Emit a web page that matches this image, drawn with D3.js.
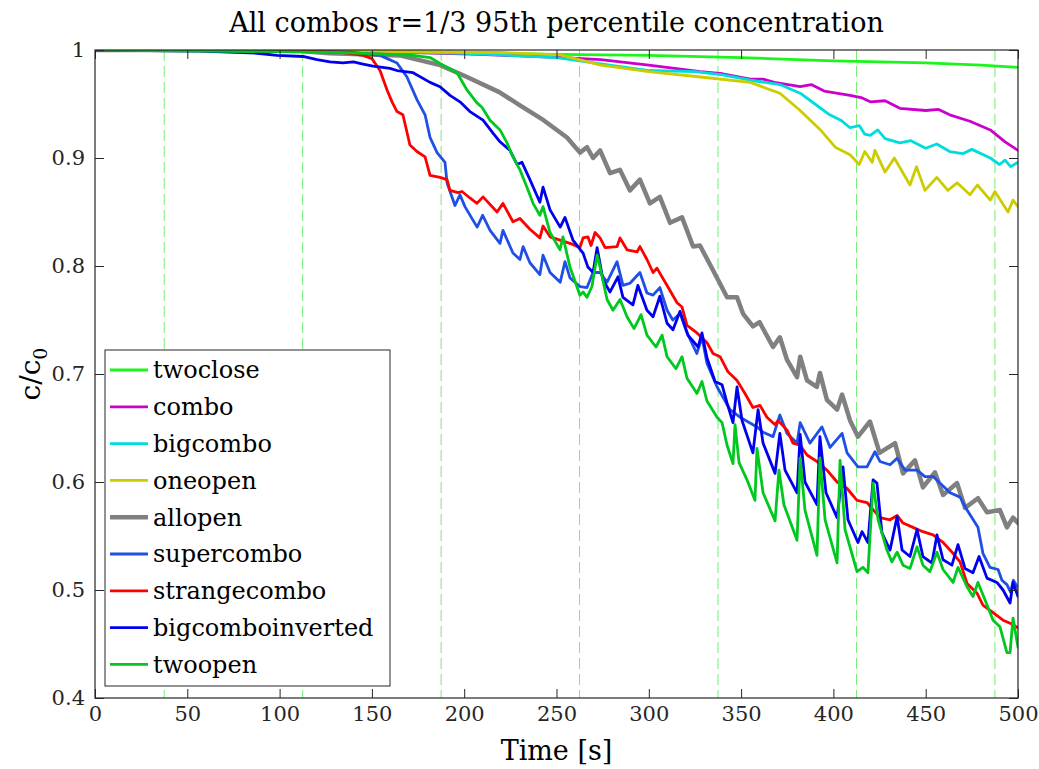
<!DOCTYPE html>
<html lang="en">
<head>
    <meta charset="UTF-8">
    <title>All combos</title>
    <script src="https://cdnjs.cloudflare.com/ajax/libs/d3/7.8.5/d3.min.js"></script>
    <style>
        body { margin: 0; background: #fff; }
    </style>
</head>
<body>
<script>

    // series, in legend order: [time s, c/c0]
    var seriesNames = ["twoclose", "combo", "bigcombo", "oneopen", "allopen",
        "supercombo", "strangecombo", "bigcomboinverted", "twoopen"];
    var seriesColors = ["#1cf51c", "#cc00cc", "#00dcdc", "#cccc00", "#808080",
        "#1f4fe6", "#ff0000", "#0000f0", "#00c81e"];

    var twoclose = [[0,1],[100,0.999],[200,0.997],[250,0.996],[300,0.995],[350,0.993],[380,0.991],
        [400,0.990],[450,0.988],[480,0.986],[500,0.984]];

    var combo = [[0,1],[111,0.9995],[165,0.998],[208,0.996],[246,0.9935],[274,0.991],[300,0.986],
        [328,0.980],[340,0.978],[355,0.973],[362,0.973],[368,0.970],[382,0.966],[388,0.968],[395,0.962],
        [409,0.958],[415,0.956],[420,0.952],[428,0.953],[436,0.946],[450,0.944],[457,0.945],
        [463,0.940],[474,0.934],[485,0.926],[493,0.915],[500,0.907]];

    var bigcombo = [[0,1],[150,0.999],[200,0.997],[250,0.993],[275,0.987],[300,0.981],[325,0.980],
        [340,0.977],[355,0.972],[371,0.968],[382,0.960],[390,0.950],[398,0.940],[404,0.935],[409,0.928],
        [414,0.930],[417,0.922],[420,0.921],[424,0.926],[428,0.918],[436,0.914],[442,0.916],[450,0.909],
        [456,0.913],[463,0.906],[470,0.904],[475,0.908],[485,0.900],[490,0.894],[493,0.898],[496,0.892],
        [500,0.896]];

    var oneopen = [[0,1],[165,0.9986],[219,0.9977],[252,0.9954],[274,0.986],[300,0.980],[328,0.975],
        [355,0.970],[371,0.960],[382,0.944],[393,0.926],[401,0.910],[409,0.903],[414,0.894],[417,0.906],
        [421,0.896],[422.5,0.907],[428,0.887],[433,0.900],[441.5,0.875],[445,0.892],[449.6,0.870],
        [456,0.882],[462,0.870],[467,0.877],[474,0.866],[478,0.875],[485,0.861],[487.5,0.869],
        [494.6,0.850],[497.3,0.861],[500,0.855]];

    var allopen = [[0,1],[84,1.0],[111,0.999],[127,0.997],[165,0.995],[187,0.986],[201.5,0.975],
        [219,0.961],[230,0.949],[243,0.935],[255.7,0.919],[262.7,0.905],[266.5,0.910],[269.8,0.900],
        [273.6,0.907],[279,0.886],[284.4,0.889],[289.8,0.870],[295.2,0.880],[300.6,0.858],[306,0.864],
        [311.5,0.840],[318,0.845],[324,0.818],[327.7,0.819],[334.8,0.796],[342.4,0.771],[347.8,0.771],
        [351,0.756],[356.4,0.744],[360,0.748],[367.3,0.725],[371,0.734],[374.9,0.713],[380.3,0.697],
        [382,0.716],[385.7,0.694],[391,0.688],[392.7,0.701],[396.5,0.676],[402,0.667],[404.7,0.681],
        [409,0.657],[413.3,0.642],[419.8,0.656],[425,0.627],[433.4,0.636],[437.7,0.608],[444.2,0.620],
        [448.5,0.595],[455,0.609],[459.4,0.588],[467,0.599],[471.3,0.576],[478.3,0.585],[483.2,0.572],
        [490.2,0.574],[494,0.558],[497.3,0.567],[500,0.562]];

    var supercombo = [[0,1],[111,0.999],[138,0.998],[154.4,0.995],[163.6,0.988],[169,0.975],
        [174.4,0.954],[178.8,0.940],[181.5,0.919],[185.3,0.905],[189.6,0.896],[190.7,0.877],[195,0.856],
        [197.7,0.866],[200.4,0.855],[207,0.836],[210,0.847],[214,0.833],[219.4,0.821],[221,0.833],
        [226.4,0.812],[230.2,0.806],[231.9,0.818],[235.6,0.803],[241,0.792],[242.7,0.810],[246.5,0.794],
        [252,0.785],[254.6,0.804],[257.3,0.789],[262.7,0.781],[266.5,0.780],[269.8,0.794],[273.6,0.794],
        [277.4,0.785],[282.8,0.804],[286,0.782],[289.8,0.784],[295.2,0.794],[299,0.775],[302.3,0.773],
        [306,0.780],[309.9,0.759],[313,0.750],[317,0.756],[320.7,0.738],[326,0.719],[328.8,0.734],
        [331.5,0.710],[337,0.688],[344,0.667],[349.4,0.660],[358.6,0.651],[361.9,0.646],[367.3,0.642],
        [371,0.662],[374.9,0.645],[380.3,0.636],[382,0.655],[387.3,0.636],[393.8,0.651],[398.2,0.632],
        [404.7,0.645],[407.4,0.627],[413.3,0.614],[418.2,0.614],[422.5,0.628],[425.2,0.619],[430.7,0.616],
        [434.5,0.622],[438.8,0.611],[445.3,0.611],[449.6,0.605],[454,0.605],[457.7,0.599],[463.2,0.590],
        [468.6,0.586],[472.4,0.574],[478.3,0.558],[481,0.534],[484.8,0.521],[489.2,0.519],[491.3,0.509],
        [494,0.505],[496,0.498],[497.5,0.509],[500,0.502]];

    var strangecombo = [[0,1],[111,0.999],[132.7,0.998],[145.2,0.995],[150,0.992],[154.4,0.981],
        [158.2,0.963],[160.9,0.952],[163.6,0.943],[166.8,0.940],[170.6,0.912],[174.4,0.906],[178.8,0.901],
        [181.5,0.884],[186.9,0.882],[190.7,0.880],[192.3,0.870],[196.6,0.868],[198.8,0.869],[203.1,0.863],
        [206.9,0.858],[210.2,0.864],[217.8,0.850],[221,0.858],[226.4,0.841],[230.2,0.844],[235.6,0.834],
        [241,0.826],[242.7,0.837],[246.5,0.827],[253.5,0.823],[258.9,0.820],[262.7,0.817],[264.4,0.826],
        [267,0.827],[268.7,0.819],[270.9,0.831],[273.6,0.826],[276.3,0.817],[282.8,0.818],[284.4,0.826],
        [288.2,0.815],[293.6,0.813],[295.2,0.818],[299,0.806],[302.3,0.794],[304.4,0.798],[309.9,0.782],
        [315.3,0.766],[318,0.762],[320.7,0.745],[326.1,0.738],[331.5,0.729],[334.8,0.719],[338.6,0.716],
        [342.9,0.702],[347.8,0.694],[352.1,0.682],[356.4,0.669],[360.2,0.671],[364,0.660],[368.4,0.653],
        [370,0.657],[374.9,0.648],[378.1,0.636],[382,0.634],[385.7,0.625],[391.1,0.619],[396.5,0.611],
        [402,0.600],[407.4,0.594],[412.8,0.583],[418.2,0.581],[425.2,0.567],[430.7,0.565],[434.5,0.569],
        [437.7,0.562],[443.1,0.558],[448.5,0.554],[454,0.551],[459.4,0.544],[464.8,0.534],[468.6,0.526],
        [472.4,0.506],[477.8,0.497],[481,0.486],[486.5,0.479],[491.9,0.472],[497.3,0.468],[500,0.465]];

    var bigcomboinverted = [[0,1],[57,0.999],[87.8,0.997],[98.6,0.995],[112.7,0.994],[120.3,0.991],
        [127.3,0.989],[134.3,0.988],[140,0.989],[145.2,0.987],[150.6,0.985],[159.8,0.983],[163.6,0.981],
        [172.3,0.979],[181.5,0.970],[186.9,0.966],[192.3,0.958],[197.7,0.952],[203.1,0.943],[210.2,0.935],
        [215.6,0.923],[219.4,0.915],[224.8,0.907],[228.6,0.894],[231.3,0.896],[235.6,0.880],[241,0.859],
        [242.7,0.873],[246.5,0.852],[252,0.836],[254.6,0.845],[258.9,0.824],[264.4,0.812],[267,0.799],
        [269.8,0.794],[272,0.817],[275.2,0.787],[279,0.776],[283.3,0.790],[286,0.771],[291.4,0.764],
        [294.1,0.782],[299,0.759],[302.3,0.753],[306,0.772],[309.9,0.747],[313.1,0.741],[316.9,0.758],
        [321.2,0.736],[326.7,0.725],[328.8,0.738],[331.5,0.715],[335.9,0.693],[339.7,0.690],[342.4,0.673],
        [345.6,0.655],[347.8,0.688],[350.5,0.657],[356.4,0.627],[359.2,0.667],[361.9,0.636],[368.4,0.608],
        [371,0.645],[373.8,0.611],[380.3,0.590],[382,0.644],[384.6,0.600],[391.1,0.579],[392.7,0.642],
        [396,0.590],[402,0.567],[405.2,0.614],[407.9,0.565],[413.3,0.544],[415.5,0.554],[418.7,0.544],
        [421.5,0.602],[423.6,0.599],[426.3,0.553],[430.7,0.537],[434.5,0.568],[437.2,0.537],[441.5,0.531],
        [445.3,0.556],[448.5,0.531],[453.4,0.525],[456.1,0.551],[459.4,0.528],[464.2,0.523],[467.5,0.542],
        [471.3,0.520],[475.6,0.516],[478.9,0.531],[483.2,0.511],[488.6,0.507],[491.9,0.500],[495.7,0.488],
        [497.3,0.507],[500,0.494]];

    var twoopen = [[0,1],[127.3,0.998],[172.3,0.995],[181.5,0.993],[188.5,0.986],[196.1,0.979],
        [201.5,0.963],[206.9,0.951],[209.6,0.947],[214,0.935],[219.4,0.926],[223.2,0.914],[226.4,0.901],
        [230.2,0.889],[234,0.873],[237.3,0.858],[241,0.847],[242.7,0.855],[246.5,0.831],[251.9,0.815],
        [253.5,0.827],[257.3,0.799],[262.7,0.773],[264.4,0.776],[266.5,0.771],[269.2,0.781],[272,0.810],
        [273.6,0.799],[277.4,0.769],[280.6,0.759],[284.4,0.769],[288.2,0.753],[292,0.742],[295.8,0.755],
        [299,0.736],[303.9,0.725],[307.2,0.736],[309.9,0.716],[314.7,0.705],[318,0.716],[320.7,0.696],
        [326.1,0.682],[328.8,0.693],[331.5,0.675],[337,0.660],[339.7,0.655],[342.4,0.634],[345.6,0.617],
        [346.7,0.653],[348.9,0.618],[353.2,0.602],[357.5,0.583],[358.6,0.631],[361.9,0.590],[368.4,0.564],
        [370.5,0.611],[373.2,0.579],[380.3,0.546],[382,0.622],[384.6,0.574],[391.1,0.532],[392.7,0.622],
        [395.5,0.565],[402,0.525],[403.6,0.620],[406.3,0.556],[412.8,0.517],[416,0.521],[418.7,0.516],
        [421.5,0.599],[424.2,0.565],[429,0.537],[431.7,0.526],[434.5,0.535],[437.7,0.523],[441.5,0.520],
        [445.3,0.540],[448.5,0.523],[452.3,0.517],[456.1,0.535],[459.4,0.519],[464.8,0.507],[467.5,0.521],
        [472.4,0.503],[475.6,0.494],[478.3,0.507],[482.1,0.491],[486.5,0.472],[490.2,0.466],[494,0.442],
        [495.7,0.442],[497.3,0.474],[500,0.447]];

    var seriesData = [twoclose, combo, bigcombo, oneopen, allopen, supercombo, strangecombo,
        bigcomboinverted, twoopen];

    var xTicks = [0, 50, 100, 150, 200, 250, 300, 350, 400, 450, 500];
    var yTicks = [0.4, 0.5, 0.6, 0.7, 0.8, 0.9, 1];
    // switching times drawn as dashed green lines
    var switchTimes = [37.5, 112.5, 187.5, 262.5, 337.5, 412.5, 487.5];

    // canvas
    var width = 1039;
    var height = 769;
    var plotLeft = 95, plotRight = 1018, plotTop = 50, plotBottom = 698;
    var font = "'DejaVu Serif', 'Liberation Serif', serif";
    var axisColor = "#262626";

    var svg = d3.select("body")
        .append("svg")
        .attr("width", width)
        .attr("height", height)
        .style("font-family", font);

    var x = d3.scaleLinear().domain([0, 500]).range([plotLeft, plotRight]);
    var y = d3.scaleLinear().domain([0.4, 1]).range([plotBottom, plotTop]);

    svg.append("defs").append("clipPath").attr("id", "plotclip")
        .append("rect")
        .attr("x", plotLeft).attr("y", plotTop)
        .attr("width", plotRight - plotLeft).attr("height", plotBottom - plotTop);

    // dashed switching lines
    svg.append("g")
        .selectAll("line")
        .data(switchTimes)
        .enter()
        .append("line")
        .attr("x1", function (d) { return x(d); })
        .attr("x2", function (d) { return x(d); })
        .attr("y1", plotTop)
        .attr("y2", plotBottom)
        .attr("stroke", "#5de85d")
        .attr("stroke-opacity", 0.85)
        .attr("stroke-width", 1)
        .attr("stroke-dasharray", "11,5");

    // data lines
    var line = d3.line()
        .x(function (d) { return x(d[0]); })
        .y(function (d) { return y(d[1]); });

    svg.append("g")
        .attr("clip-path", "url(#plotclip)")
        .selectAll("path")
        .data(seriesData)
        .enter()
        .append("path")
        .attr("d", line)
        .attr("fill", "none")
        .attr("stroke", function (d, i) { return seriesColors[i]; })
        .attr("stroke-width", function (d, i) { return seriesNames[i] === "allopen" ? 4.5 : 2.8; })
        .attr("stroke-linejoin", "round")
        .attr("stroke-linecap", "round");

    // axes, ticks inside like matlab
    svg.append("g")
        .attr("transform", "translate(0," + plotBottom + ")")
        .call(d3.axisBottom(x).tickValues(xTicks).tickSizeInner(-9).tickSizeOuter(0).tickPadding(8)
            .tickFormat(d3.format("d")));
    svg.append("g")
        .attr("transform", "translate(0," + plotTop + ")")
        .call(d3.axisTop(x).tickValues(xTicks).tickSizeInner(-9).tickSizeOuter(0).tickFormat(""));
    svg.append("g")
        .attr("transform", "translate(" + plotLeft + ",0)")
        .call(d3.axisLeft(y).tickValues(yTicks).tickSizeInner(-9).tickSizeOuter(0).tickPadding(10)
            .tickFormat(function (d) { return d === 1 ? "1" : d.toFixed(1); }));
    svg.append("g")
        .attr("transform", "translate(" + plotRight + ",0)")
        .call(d3.axisRight(y).tickValues(yTicks).tickSizeInner(-9).tickSizeOuter(0).tickFormat(""));

    svg.selectAll(".domain").remove();
    svg.selectAll(".tick line").attr("stroke", axisColor);
    svg.selectAll(".tick text")
        .attr("fill", axisColor)
        .attr("font-family", font)
        .attr("font-size", 21);

    svg.append("rect")
        .attr("x", plotLeft).attr("y", plotTop)
        .attr("width", plotRight - plotLeft).attr("height", plotBottom - plotTop)
        .attr("fill", "none")
        .attr("stroke", axisColor)
        .attr("stroke-width", 1.2);

    // title and labels
    svg.append("text")
        .attr("x", (plotLeft + plotRight) / 2)
        .attr("y", 32)
        .attr("text-anchor", "middle")
        .attr("font-size", 27)
        .attr("fill", "#000")
        .text("All combos r=1/3 95th percentile concentration");

    svg.append("text")
        .attr("x", (plotLeft + plotRight) / 2)
        .attr("y", 760)
        .attr("text-anchor", "middle")
        .attr("font-size", 27)
        .attr("fill", "#000")
        .text("Time [s]");

    var ylab = svg.append("text")
        .attr("transform", "translate(40," + ((plotTop + plotBottom) / 2) + ") rotate(-90)")
        .attr("text-anchor", "middle")
        .attr("font-size", 28)
        .attr("fill", "#000");
    ylab.append("tspan").text("c/c");
    ylab.append("tspan").attr("font-size", 19).attr("dy", 7).text("0");

    // legend
    var lgX = 105, lgY = 350, lgW = 285, lgH = 336, rowH = 36.8;
    var legend = svg.append("g");
    legend.append("rect")
        .attr("x", lgX).attr("y", lgY)
        .attr("width", lgW).attr("height", lgH)
        .attr("fill", "#fff")
        .attr("stroke", axisColor)
        .attr("stroke-width", 1);

    var rows = legend.selectAll("g.row")
        .data(seriesNames)
        .enter()
        .append("g")
        .attr("class", "row")
        .attr("transform", function (d, i) { return "translate(" + lgX + "," + (lgY + 20 + i * rowH) + ")"; });

    rows.append("line")
        .attr("x1", 5).attr("x2", 43)
        .attr("y1", 0).attr("y2", 0)
        .attr("stroke", function (d, i) { return seriesColors[i]; })
        .attr("stroke-width", function (d) { return d === "allopen" ? 4.5 : 2.8; });

    rows.append("text")
        .attr("x", 48)
        .attr("y", 0)
        .attr("dy", "0.35em")
        .attr("font-size", 24)
        .attr("fill", "#000")
        .text(function (d) { return d; });

</script>
</body>
</html>
